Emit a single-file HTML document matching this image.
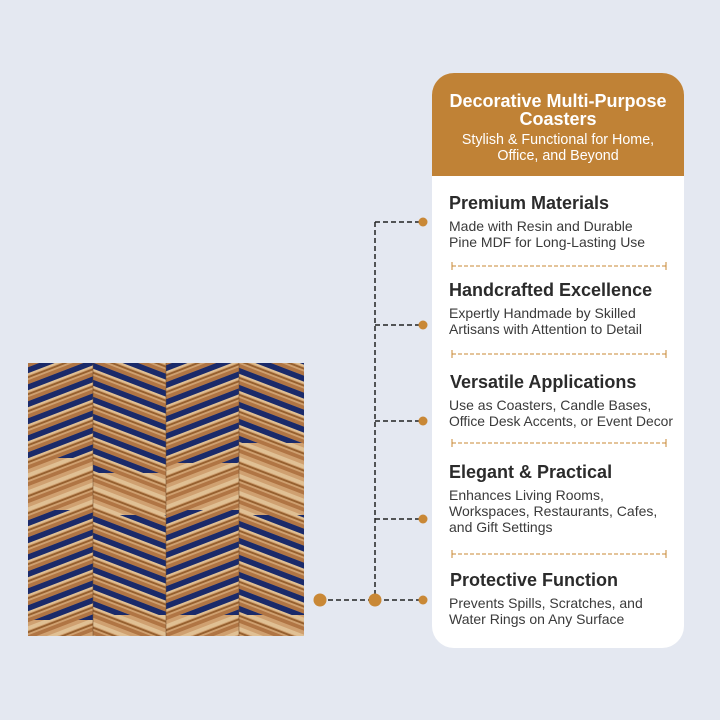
<!DOCTYPE html>
<html><head><meta charset="utf-8"><style>
html,body{margin:0;padding:0;background:#e4e8f1;}
svg{display:block}
text{font-family:"Liberation Sans",sans-serif;}
</style></head><body>
<svg width="720" height="720" viewBox="0 0 720 720" xmlns="http://www.w3.org/2000/svg">
<rect width="720" height="720" fill="#e4e8f1"/>
<defs>
<pattern id="wA" width="72" height="17" patternUnits="userSpaceOnUse" patternTransform="skewY(-21)">
<rect width="72" height="17" fill="#cfa070"/>
<rect y="0" width="72" height="4" fill="#b07544"/>
<rect y="8" width="72" height="4" fill="#e0c094"/>
<rect y="13" width="72" height="2" fill="#96602f"/>
</pattern>
<pattern id="wB" width="72" height="17" patternUnits="userSpaceOnUse" patternTransform="skewY(21)">
<rect width="72" height="17" fill="#cfa070"/>
<rect y="0" width="72" height="4" fill="#b07544"/>
<rect y="8" width="72" height="4" fill="#e0c094"/>
<rect y="13" width="72" height="2" fill="#96602f"/>
</pattern>
<pattern id="bA" width="72" height="17" patternUnits="userSpaceOnUse" patternTransform="skewY(-21)">
<rect y="4" width="72" height="6" fill="#1a2a6a"/>
</pattern>
<pattern id="bB" width="72" height="17" patternUnits="userSpaceOnUse" patternTransform="skewY(21)">
<rect y="4" width="72" height="6" fill="#1a2a6a"/>
</pattern>
</defs>
<!-- coaster -->
<rect x="28" y="363" width="276" height="273" fill="#b98552" rx="2"/>
<rect x="28" y="363" width="65" height="273" fill="url(#wA)"/>
<rect x="93" y="363" width="73" height="273" fill="url(#wB)"/>
<rect x="166" y="363" width="73" height="273" fill="url(#wA)"/>
<rect x="239" y="363" width="65" height="273" fill="url(#wB)"/>
<rect x="28" y="363" width="65" height="95" fill="url(#bA)"/>
<rect x="93" y="363" width="73" height="110" fill="url(#bB)"/>
<rect x="166" y="363" width="73" height="100" fill="url(#bA)"/>
<rect x="239" y="363" width="65" height="80" fill="url(#bB)"/>
<rect x="28" y="510" width="65" height="110" fill="url(#bA)"/>
<rect x="93" y="515" width="73" height="100" fill="url(#bB)"/>
<rect x="166" y="510" width="73" height="105" fill="url(#bA)"/>
<rect x="239" y="515" width="65" height="100" fill="url(#bB)"/>
<g stroke="#6e4a2a" stroke-width="1" opacity="0.5"><line x1="93" y1="363" x2="93" y2="636"/><line x1="166" y1="363" x2="166" y2="636"/><line x1="239" y1="363" x2="239" y2="636"/></g>
<!-- connectors -->
<g stroke="#222" stroke-width="1.5" stroke-dasharray="5,3" fill="none">
<line x1="375" y1="222" x2="375" y2="600"/>
<line x1="375" y1="222" x2="420" y2="222"/>
<line x1="375" y1="325" x2="420" y2="325"/>
<line x1="375" y1="421" x2="420" y2="421"/>
<line x1="375" y1="519" x2="420" y2="519"/>
<line x1="320" y1="600" x2="420" y2="600"/>
</g>
<g fill="#c98836">
<circle cx="423" cy="222" r="4.5"/><circle cx="423" cy="325" r="4.5"/><circle cx="423" cy="421" r="4.5"/><circle cx="423" cy="519" r="4.5"/><circle cx="423" cy="600" r="4.5"/>
<circle cx="320" cy="600" r="6.5"/><circle cx="375" cy="600" r="6.5"/>
</g>
<!-- card -->
<rect x="432" y="73" width="252" height="575" rx="22" fill="#ffffff"/>
<path d="M432 176 V95 a22 22 0 0 1 22 -22 H662 a22 22 0 0 1 22 22 V176 Z" fill="#c08236"/>
<g fill="#fff" text-anchor="middle">
<text x="558" y="107" font-size="18" font-weight="bold">Decorative Multi-Purpose</text>
<text x="558" y="125" font-size="18" font-weight="bold">Coasters</text>
<text x="558" y="144" font-size="14.3">Stylish &amp; Functional for Home,</text>
<text x="558" y="160" font-size="14.3">Office, and Beyond</text>
</g>
<g fill="#2b2b2b" font-size="18" font-weight="bold">
<text x="449" y="209">Premium Materials</text>
<text x="449" y="296">Handcrafted Excellence</text>
<text x="450" y="388">Versatile Applications</text>
<text x="449" y="478">Elegant &amp; Practical</text>
<text x="450" y="586">Protective Function</text>
</g>
<g fill="#3a3a3a" font-size="14">
<text x="449" y="231">Made with Resin and Durable</text>
<text x="449" y="247">Pine MDF for Long-Lasting Use</text>
<text x="449" y="318">Expertly Handmade by Skilled</text>
<text x="449" y="334">Artisans with Attention to Detail</text>
<text x="449" y="410">Use as Coasters, Candle Bases,</text>
<text x="449" y="426" textLength="224" lengthAdjust="spacingAndGlyphs">Office Desk Accents, or Event Decor</text>
<text x="449" y="500">Enhances Living Rooms,</text>
<text x="449" y="516">Workspaces, Restaurants, Cafes,</text>
<text x="449" y="532">and Gift Settings</text>
<text x="449" y="608">Prevents Spills, Scratches, and</text>
<text x="449" y="624">Water Rings on Any Surface</text>
</g>
<g stroke="#c98836" stroke-width="1">
<g stroke-dasharray="4,2"><line x1="452" y1="266" x2="666" y2="266"/><line x1="452" y1="354" x2="666" y2="354"/><line x1="452" y1="443" x2="666" y2="443"/><line x1="452" y1="554" x2="666" y2="554"/></g>
<line x1="452" y1="262" x2="452" y2="270"/><line x1="666" y1="262" x2="666" y2="270"/>
<line x1="452" y1="350" x2="452" y2="358"/><line x1="666" y1="350" x2="666" y2="358"/>
<line x1="452" y1="439" x2="452" y2="447"/><line x1="666" y1="439" x2="666" y2="447"/>
<line x1="452" y1="550" x2="452" y2="558"/><line x1="666" y1="550" x2="666" y2="558"/>
</g>
</svg>
</body></html>
